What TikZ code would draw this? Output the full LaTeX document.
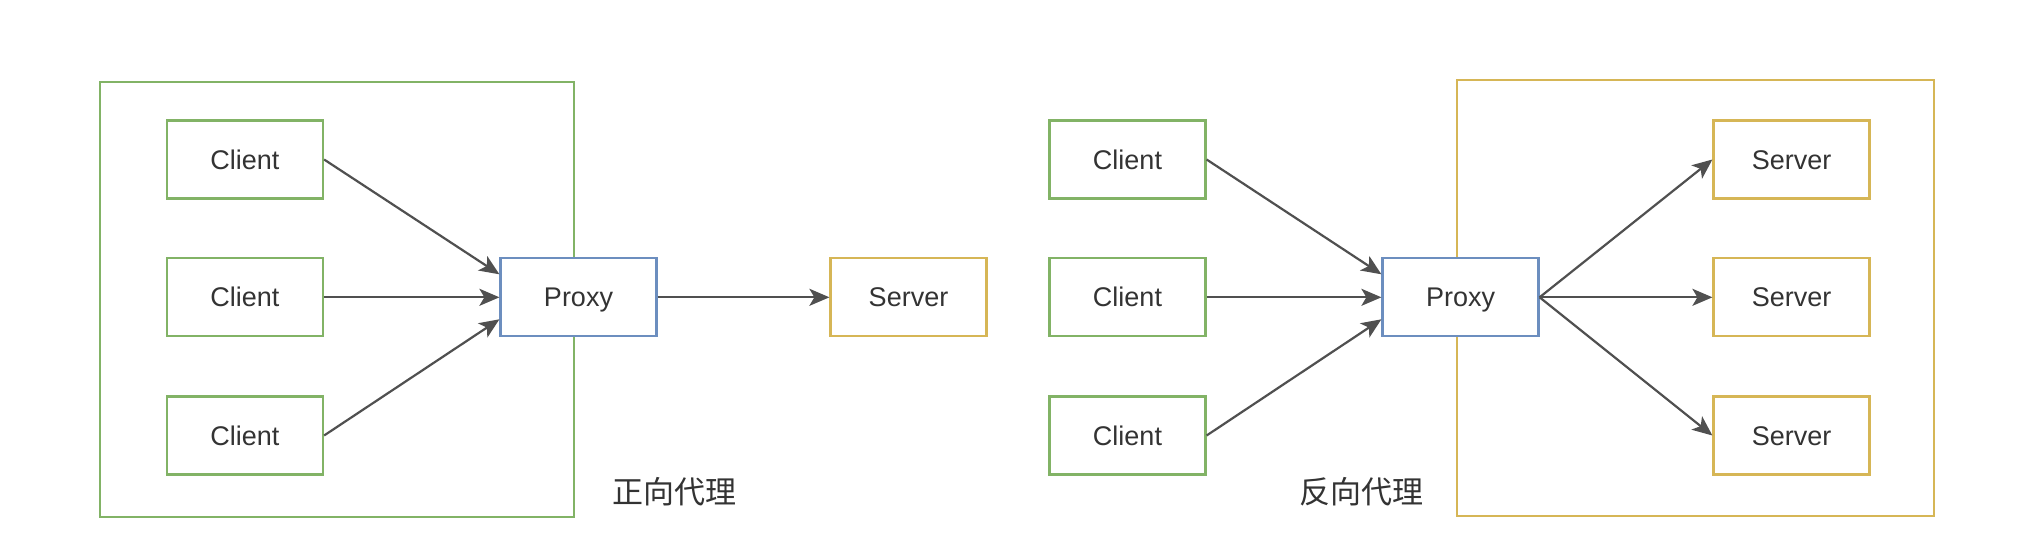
\documentclass[tikz,border=0pt]{standalone}
\usepackage{fontspec}
\setmainfont{Liberation Sans}
\newfontfamily\cjk{Noto Sans CJK SC}
\usetikzlibrary{arrows.meta}
\definecolor{gstroke}{HTML}{82B366}
\definecolor{bstroke}{HTML}{6C8EBF}
\definecolor{ystroke}{HTML}{D6B656}
\definecolor{txt}{HTML}{333333}
\definecolor{edge}{HTML}{505050}
\tikzset{
  box/.style={draw, line width=2.2pt, fill=white, minimum width=156pt, minimum height=78pt,
    inner sep=0pt, text=txt, font=\fontsize{27}{32}\selectfont, text height=19.3pt, text depth=0pt},
  clientbox/.style={box, draw=gstroke},
  proxybox/.style={box, draw=bstroke},
  serverbox/.style={box, draw=ystroke},
  groupbox/.style={draw, line width=2.2pt, fill=none, inner sep=0pt},
  conn/.style={draw=edge, line width=2.2pt, -{Stealth[length=20pt, width=17pt, inset=5pt]}},
  caption/.style={text=txt, font=\cjk\fontsize{31}{36}\selectfont, inner sep=0pt}
}
\begin{document}
\begin{tikzpicture}[x=1pt, y=-1pt]
\useasboundingbox (0,0) rectangle (2032,543);
\fill[white] (0,0) rectangle (2032,543);
% group frames
\node[groupbox, draw=gstroke, minimum width=474pt, minimum height=435pt] (gleft) at (337,299.5) {};
\node[groupbox, draw=ystroke, minimum width=477pt, minimum height=436pt] (gright) at (1695.5,298) {};
% left diagram
\node[clientbox] (c1) at (245,159.5) {Client};
\node[clientbox] (c2) at (245,297.3) {Client};
\node[clientbox] (c3) at (245,435.5) {Client};
\node[proxybox] (p1) at (578.5,297.3) {Proxy};
\node[serverbox] (s1) at (908.5,297.3) {Server};
\node[caption] (l1) at (674,492) {正向代理};
\draw[conn] (c1.east) -- ([yshift=23pt]p1.west);
\draw[conn] (c2.east) -- (p1.west);
\draw[conn] (c3.east) -- ([yshift=-22pt]p1.west);
\draw[conn] (p1.east) -- (s1.west);
% right diagram
\node[clientbox] (c4) at (1127.5,159.5) {Client};
\node[clientbox] (c5) at (1127.5,297.3) {Client};
\node[clientbox] (c6) at (1127.5,435.5) {Client};
\node[proxybox] (p2) at (1460.5,297.3) {Proxy};
\node[serverbox] (s2) at (1791.5,159.5) {Server};
\node[serverbox] (s3) at (1791.5,297.3) {Server};
\node[serverbox] (s4) at (1791.5,435.5) {Server};
\node[caption] (l2) at (1361,492) {反向代理};
\draw[conn] (c4.east) -- ([yshift=23pt]p2.west);
\draw[conn] (c5.east) -- (p2.west);
\draw[conn] (c6.east) -- ([yshift=-22pt]p2.west);
\draw[conn] (p2.east) -- (s2.west);
\draw[conn] (p2.east) -- (s3.west);
\draw[conn] (p2.east) -- (s4.west);
\end{tikzpicture}
\end{document}
